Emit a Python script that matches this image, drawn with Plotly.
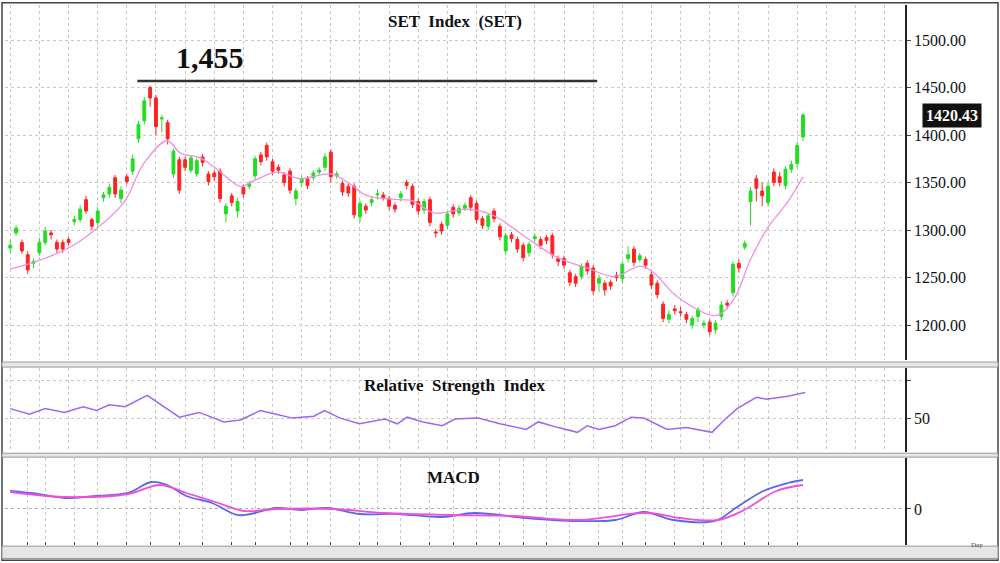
import plotly.graph_objs as go
from plotly.subplots import make_subplots

# candle data (index = trading day)
opens = [1281, 1297, 1287, 1274, 1265, 1276, 1287, 1297, 1287, 1287,
         1290, 1309, 1311, 1332, 1311, 1308, 1334, 1338, 1355, 1333,
         1356, 1362, 1396, 1415, 1450, 1439, 1417, 1413, 1359, 1374,
         1374, 1363, 1359, 1377, 1359, 1360, 1362, 1317, 1336, 1320,
         1345, 1346, 1357, 1379, 1389, 1372, 1366, 1358, 1362, 1333,
         1350, 1354, 1355, 1361, 1366, 1382, 1357, 1349, 1346, 1346,
         1314, 1325, 1329, 1337, 1337, 1333, 1326, 1334, 1350, 1346,
         1330, 1321, 1332, 1298, 1306, 1305, 1324, 1318, 1323, 1334,
         1328, 1312, 1304, 1320, 1304, 1278, 1295, 1290, 1284, 1276,
         1291, 1290, 1292, 1294, 1270, 1270, 1255, 1251, 1251, 1265,
         1260, 1244, 1244, 1245, 1252, 1249, 1270, 1280, 1269, 1269,
         1253, 1244, 1222, 1206, 1217, 1214, 1211, 1200, 1209, 1200,
         1203, 1195, 1209, 1223, 1234, 1265, 1282, 1330, 1354, 1341,
         1329, 1361, 1356, 1347, 1364, 1370, 1398]
closes = [1284, 1302, 1278, 1258, 1267, 1287, 1299, 1295, 1280, 1280,
          1287, 1311, 1322, 1320, 1304, 1320, 1337, 1345, 1338, 1342,
          1351, 1375, 1411, 1436, 1439, 1409, 1418, 1396, 1383, 1342,
          1366, 1376, 1373, 1371, 1351, 1356, 1333, 1325, 1329, 1330,
          1338, 1349, 1375, 1372, 1377, 1362, 1363, 1350, 1342, 1341,
          1354, 1347, 1360, 1363, 1377, 1356, 1359, 1340, 1339, 1316,
          1328, 1321, 1332, 1338, 1334, 1325, 1322, 1338, 1347, 1327,
          1320, 1330, 1308, 1297, 1299, 1317, 1317, 1323, 1326, 1324,
          1311, 1305, 1315, 1312, 1293, 1294, 1291, 1280, 1271, 1285,
          1293, 1284, 1289, 1274, 1267, 1263, 1245, 1244, 1262, 1257,
          1236, 1249, 1237, 1241, 1250, 1264, 1274, 1266, 1273, 1263,
          1242, 1232, 1207, 1211, 1215, 1213, 1206, 1207, 1216, 1202,
          1193, 1202, 1221, 1221, 1264, 1260, 1286, 1341, 1344, 1336,
          1346, 1350, 1350, 1364, 1369, 1389, 1421]
highs = [1290, 1305, 1290, 1278, 1270, 1292, 1303, 1300, 1290, 1290,
         1293, 1315, 1326, 1336, 1313, 1324, 1340, 1349, 1358, 1346,
         1359, 1379, 1415, 1440, 1452, 1442, 1421, 1416, 1386, 1377,
         1377, 1379, 1376, 1380, 1362, 1363, 1365, 1328, 1339, 1334,
         1348, 1352, 1378, 1382, 1392, 1375, 1369, 1361, 1365, 1344,
         1357, 1357, 1363, 1366, 1381, 1385, 1362, 1352, 1349, 1349,
         1331, 1328, 1335, 1343, 1340, 1336, 1329, 1341, 1353, 1349,
         1333, 1333, 1335, 1301, 1309, 1320, 1327, 1326, 1329, 1337,
         1331, 1315, 1318, 1323, 1307, 1297, 1298, 1293, 1287, 1288,
         1296, 1293, 1295, 1297, 1273, 1273, 1258, 1254, 1265, 1268,
         1263, 1253, 1247, 1248, 1256, 1267, 1283, 1283, 1276, 1272,
         1256, 1247, 1225, 1215, 1221, 1219, 1214, 1210, 1219, 1205,
         1206, 1205, 1225, 1226, 1267, 1269, 1289, 1345, 1358, 1350,
         1350, 1365, 1361, 1367, 1373, 1393, 1423]
lows = [1276, 1294, 1275, 1254, 1260, 1273, 1284, 1290, 1276, 1276,
        1284, 1305, 1308, 1317, 1300, 1304, 1330, 1334, 1334, 1328,
        1348, 1358, 1392, 1411, 1430, 1400, 1403, 1390, 1355, 1338,
        1362, 1360, 1356, 1367, 1347, 1352, 1329, 1308, 1325, 1313,
        1334, 1343, 1353, 1368, 1373, 1358, 1359, 1346, 1338, 1326,
        1346, 1343, 1352, 1358, 1362, 1350, 1354, 1336, 1335, 1312,
        1308, 1317, 1325, 1332, 1331, 1321, 1318, 1330, 1343, 1323,
        1316, 1317, 1304, 1292, 1295, 1301, 1313, 1315, 1320, 1320,
        1307, 1301, 1300, 1308, 1289, 1274, 1287, 1276, 1267, 1272,
        1288, 1280, 1285, 1270, 1262, 1259, 1241, 1240, 1248, 1253,
        1232, 1235, 1231, 1237, 1246, 1244, 1266, 1262, 1266, 1259,
        1238, 1228, 1203, 1202, 1211, 1209, 1202, 1196, 1203, 1197,
        1189, 1191, 1205, 1217, 1230, 1255, 1279, 1305, 1330, 1325,
        1325, 1346, 1346, 1343, 1360, 1366, 1394]
days = list(range(len(opens)))

# pink moving average line
ma_x = [0, 4, 9.7, 14.3, 19.5, 22.9, 26.9, 29.2, 32.6, 35.5, 39.5, 41.8, 45.8, 49.8,
        55, 58.4, 61.3, 67, 69, 72.7, 78.4, 83, 88.1, 93.9, 99, 103.6, 108.1,
        110.4, 114.4, 121, 124.1, 127, 129.9, 133.3, 136]
ma_y = [1259, 1266, 1280, 1299, 1329, 1370, 1394, 1381, 1376, 1364, 1346, 1352, 1361, 1354,
        1359, 1348, 1336, 1332, 1331, 1318, 1322, 1315, 1294, 1271, 1260, 1251, 1262,
        1255, 1230, 1210, 1227, 1269, 1302, 1329, 1356]

rsi_x = [0, 3.3, 6, 9.3, 12.5, 14.8, 17, 19.7, 23.5, 29, 32.4, 36.7, 39.5, 42.9, 45.6,
         48.4, 52.1, 53.9, 56.6, 59.9, 64.3, 66.4, 68.1, 70.8, 74.1, 76.3, 80.3, 84,
         88.5, 90.6, 94, 97.3, 99, 101, 103.8, 106.5, 108.7, 112.7, 116, 120.4, 122.5,
         124.7, 128, 129.7, 133.4, 136.4]
rsi_y = [55, 52, 55, 53, 56, 54, 57, 56, 62, 50.5, 53, 48, 49, 54, 52,
         50, 51, 54, 50, 47, 49.5, 47, 50.5, 48, 46, 49.5, 50, 47,
         44, 48, 45, 42.5, 46, 44, 46, 50.5, 50, 44, 45, 42.5, 49,
         55, 61, 60, 61.5, 63.5]

macd_x = [0, 4.8, 9.3, 14.8, 20.2, 24.2, 26.9, 30.2, 34.6, 38.9, 41.2, 45.6, 49.9, 54.4,
          59.9, 66.4, 74.1, 79.6, 88.5, 97.3, 103.8, 108.7, 113.7, 120.9, 124.7, 129.2,
          133.4, 136]
macd_y = [18, 15, 11, 13, 16, 27, 24, 13, 6, -6, -5, 1, -1, 1,
          -5, -5, -8, -4, -9, -12, -11, -3, -11, -12, 2, 18, 26, 29]
sig_x = [0, 9.3, 20.2, 25.7, 30.2, 35.7, 40.1, 45.6, 55.4, 64.3, 75.3, 86.3, 97.3,
         109.3, 114.8, 121.4, 125.9, 131.4, 136]
sig_y = [17, 12, 15, 24, 16, 6, -2, 0, 0, -4, -6, -7, -11, -4, -9, -11, -1, 18, 24]

date_vals = [3, 6, 11, 15, 20, 24, 29, 33, 38, 42, 48, 51, 55, 60, 63, 67, 72, 76, 80,
             84, 88, 92, 96, 101, 105, 109, 114, 119, 122, 126, 130, 135]
date_text = ['8/3', '8/11', '8/18', '8/25', '9/1', '9/8', '9/15', '9/22', '10/1', '10/7',
             '10/14', '10/21', '10/28', '11/4', '11/11', '11/18', '11/25', '12/2', '12/9',
             '12/16', '12/23', '12/30', '1/6', '1/13', '1/20', '1/27', '2/3', '2/10',
             '2/17', '2/24', '3/3', '3/10']

serif = "Liberation Serif"
fig = make_subplots(rows=3, cols=1, shared_xaxes=True)

fig.add_trace(go.Candlestick(x=days, open=opens, high=highs, low=lows, close=closes,
                             increasing=dict(line=dict(color='#22dd22', width=1), fillcolor='#22dd22'),
                             decreasing=dict(line=dict(color='#ff2222', width=1), fillcolor='#ff2222'),
                             whiskerwidth=0, showlegend=False), row=1, col=1)
fig.add_trace(go.Scatter(x=ma_x, y=ma_y, mode='lines', line=dict(color='#f08ee8', width=1.3),
                         line_shape='spline', showlegend=False), row=1, col=1)
fig.add_trace(go.Scatter(x=rsi_x, y=rsi_y, mode='lines', line=dict(color='#a066f0', width=1.5),
                         showlegend=False), row=2, col=1)
fig.add_trace(go.Scatter(x=macd_x, y=macd_y, mode='lines', line=dict(color='#5a66f0', width=1.8),
                         line_shape='spline', showlegend=False), row=3, col=1)
fig.add_trace(go.Scatter(x=sig_x, y=sig_y, mode='lines', line=dict(color='#f050d8', width=1.8),
                         line_shape='spline', showlegend=False), row=3, col=1)

grid = dict(showgrid=True, gridcolor='#c8c8c8', griddash='dot', gridwidth=1, zeroline=False)
xr = [-0.9, 153.5]
fig.update_layout(
    width=1000, height=563, margin=dict(l=0, r=0, t=0, b=0),
    plot_bgcolor='white', paper_bgcolor='white',
    xaxis=dict(domain=[0.005, 0.905], range=xr, rangeslider_visible=False, showticklabels=False,
               dtick=5, **grid),
    xaxis2=dict(domain=[0.005, 0.905], range=xr, showticklabels=False, dtick=5, **grid),
    xaxis3=dict(domain=[0.005, 0.905], range=xr, tickvals=date_vals, ticktext=date_text,
                tickfont=dict(size=6, family=serif, color='#333'), ticks='inside', ticklen=3,
                **grid),
    yaxis=dict(domain=[0.3606, 0.991], range=[1163.2, 1536.8], side='right',
               tickvals=[1200, 1250, 1300, 1350, 1400, 1450, 1500],
               ticktext=['1200.00', '1250.00', '1300.00', '1350.00', '1400.00', '1450.00', '1500.00'],
               tickfont=dict(family=serif, size=16, color='#111'), ticks='outside', ticklen=4,
               showline=True, linecolor='#222', linewidth=1.5, **grid),
    yaxis2=dict(domain=[0.197, 0.346], range=[32.1, 76.3], side='right', tickvals=[50, 70],
                ticktext=['50', ''], tickfont=dict(family=serif, size=16, color='#111'),
                ticks='outside', ticklen=4, showline=True, linecolor='#222', linewidth=1.5, **grid),
    yaxis3=dict(domain=[0.032, 0.1865], range=[-36, 51], side='right', tickvals=[0],
                ticktext=['0'], tickfont=dict(family=serif, size=16, color='#111'),
                ticks='outside', ticklen=4, showline=True, linecolor='#222', linewidth=1.5,
                showgrid=True, gridcolor='#b0b0b0', griddash='dot', zeroline=False),
)

# separators and frame
fig.add_shape(type='rect', xref='paper', yref='paper', x0=0.002, x1=0.998, y0=0.005, y1=0.995,
              line=dict(color='#444', width=1.5))
for y0, y1 in [(0.348, 0.357), (0.188, 0.195), (0.008, 0.03)]:
    fig.add_shape(type='rect', xref='paper', yref='paper', x0=0.002, x1=0.998, y0=y0, y1=y1,
                  line=dict(color='#999', width=1), fillcolor='#e6e6e6')
# 1,455 resistance line
fig.add_shape(type='line', xref='x', yref='y', x0=21.8, x1=100.7, y0=1457, y1=1457,
              line=dict(color='#333', width=2.5))

def label(x, y, text, size, yref='paper'):
    fig.add_annotation(x=x, y=y, xref='paper', yref=yref, text=text, showarrow=False,
                       xanchor='center', yanchor='middle',
                       font=dict(family=serif, size=size, color='#111'))

label(0.455, 0.962, '<b>SET  Index  (SET)</b>', 17)
label(0.21, 0.897, '<b>1,455</b>', 30)
label(0.455, 0.315, '<b>Relative  Strength  Index</b>', 17)
label(0.453, 0.152, '<b>MACD</b>', 17)
fig.add_annotation(x=0.952, y=1420.43, xref='paper', yref='y', text='<b>1420.43</b>',
                   showarrow=False, xanchor='center', yanchor='middle', bgcolor='#111',
                   font=dict(family=serif, size=16, color='white'), borderpad=3)
fig.add_annotation(x=0.985, y=0.022, xref='paper', yref='paper', text='Day', showarrow=False,
                   font=dict(family=serif, size=7, color='#444'))

# drop the browser's default body margin so the figure fills the window
fig.write_html("out.html", config=dict(displayModeBar=False),
               post_script="document.body.style.margin='0';"
               "document.body.style.overflow='hidden';")
